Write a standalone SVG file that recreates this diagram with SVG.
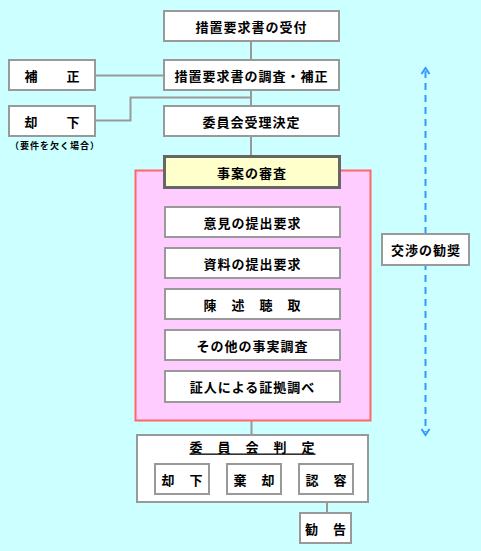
<svg xmlns="http://www.w3.org/2000/svg" width="481" height="551" viewBox="0 0 481 551">
<style>
.bx{fill:#fff;stroke:#999;stroke-width:2}
.t{font-family:"Noto Sans CJK JP","Noto Sans CJK SC",sans-serif;font-weight:bold;font-size:13px;letter-spacing:1px;fill:#000;text-anchor:middle;dominant-baseline:central}
.s{font-family:"Noto Sans CJK JP","Noto Sans CJK SC",sans-serif;font-weight:bold;font-size:9px;letter-spacing:1px;fill:#000}
.ln{fill:none;stroke:#999;stroke-width:2}
.da{fill:none;stroke:#3399FF;stroke-width:2}
</style>
<rect x="0" y="0" width="481" height="551" fill="#CCFFFF"/>
<g id="connectors">
<line class="ln" x1="251" y1="41" x2="251" y2="60"/>
<line class="ln" x1="95" y1="75.5" x2="164" y2="75.5"/>
<polyline class="ln" points="95,120.5 130.5,120.5 130.5,97.5 251,97.5"/>
<line class="ln" x1="251" y1="90" x2="251" y2="106"/>
<line class="ln" x1="251" y1="136" x2="251" y2="155"/>
<line class="ln" x1="251.5" y1="420" x2="251.5" y2="435"/>
<line class="ln" x1="327" y1="494" x2="327" y2="513"/>
<line class="da" x1="425.5" y1="71" x2="425.5" y2="432" stroke-dasharray="7,5"/>
<polyline class="da" points="421.5,74 425.5,68 429.5,74"/>
<polyline class="da" points="421.5,429 425.5,435 429.5,429"/>
</g>
<g id="n1"><rect class="bx" x="164" y="11" width="175" height="30"/><text class="t" x="251.5" y="26">措置要求書の受付</text></g>
<g id="n2"><rect class="bx" x="164" y="60" width="175" height="30"/><text class="t" x="251.5" y="75">措置要求書の調査・補正</text></g>
<g id="n3"><rect class="bx" x="9" y="60" width="86" height="30"/><text class="t" x="52.5" y="75">補　　正</text></g>
<g id="n4"><rect class="bx" x="9" y="106" width="86" height="30"/><text class="t" x="52.5" y="121">却　　下</text><text class="s" x="10" y="149">（要件を欠く場合）</text></g>
<g id="n5"><rect class="bx" x="164" y="106" width="175" height="30"/><text class="t" x="251.5" y="121">委員会受理決定</text></g>
<g id="area"><rect x="135.5" y="170.5" width="235" height="250" fill="#FFCCFF" stroke="#FF6666" stroke-width="2"/></g>
<g id="n6"><rect x="164.5" y="156.5" width="175" height="31" fill="#FFFFCC" stroke="#666" stroke-width="3"/><text class="t" x="252" y="172">事案の審査</text></g>
<g id="n7"><rect class="bx" x="165" y="207" width="175" height="30"/><text class="t" x="252.5" y="222">意見の提出要求</text></g>
<g id="n8"><rect class="bx" x="165" y="248" width="175" height="30"/><text class="t" x="252.5" y="263">資料の提出要求</text></g>
<g id="n9"><rect class="bx" x="165" y="289" width="175" height="30"/><text class="t" x="252.5" y="304">陳　述　聴　取</text></g>
<g id="n10"><rect class="bx" x="165" y="330" width="175" height="30"/><text class="t" x="252.5" y="345">その他の事実調査</text></g>
<g id="n11"><rect class="bx" x="165" y="371" width="175" height="31"/><text class="t" x="252.5" y="386.5">証人による証拠調べ</text></g>
<g id="n12"><rect class="bx" x="382" y="234" width="87" height="31"/><text class="t" x="426" y="249.5">交渉の勧奨</text></g>
<g id="n13"><rect class="bx" x="137" y="435" width="231" height="67"/><text class="t" x="252.5" y="446" text-decoration="underline">委　員　会　判　定</text></g>
<g id="n14"><rect class="bx" x="155" y="464" width="54" height="30"/><text class="t" x="182.5" y="479">却　下</text></g>
<g id="n15"><rect class="bx" x="227" y="464" width="54" height="30"/><text class="t" x="254.5" y="479">棄　却</text></g>
<g id="n16"><rect class="bx" x="299" y="464" width="54" height="30"/><text class="t" x="326.5" y="479">認　容</text></g>
<g id="n17"><rect class="bx" x="300" y="513" width="51" height="30"/><text class="t" x="326" y="528">勧　告</text></g>
</svg>
